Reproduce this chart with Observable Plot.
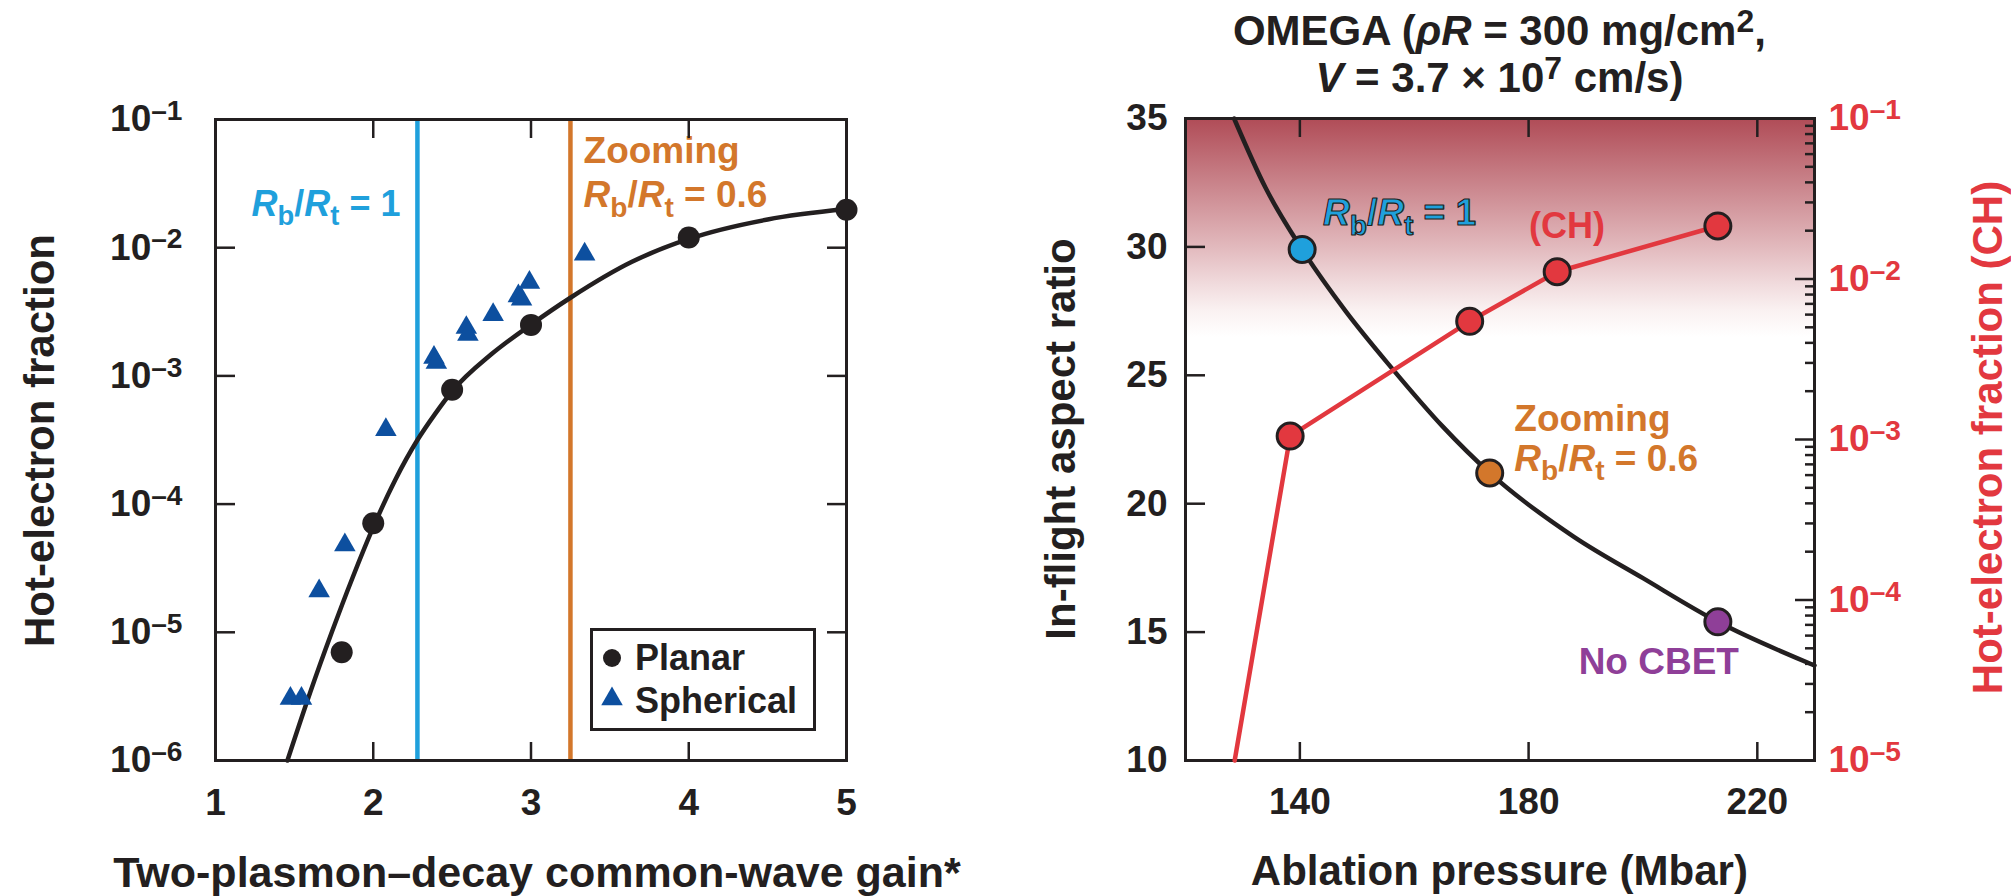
<!DOCTYPE html>
<html><head><meta charset="utf-8">
<script src="https://cdn.jsdelivr.net/npm/d3@7"></script>
<script src="https://cdn.jsdelivr.net/npm/@observablehq/plot@0.6"></script>
<style>
html,body{margin:0;padding:0;background:#fff;}
#wrap{position:relative;width:2011px;height:896px;overflow:hidden;font-family:"Liberation Sans",Arial,Helvetica,sans-serif;font-weight:bold;}
</style></head>
<body><div id="wrap"></div>
<script>
// ---------------- LEFT PANEL DATA ----------------
const planarGain = [1.8, 2.0, 2.5, 3.0, 4.0, 5.0];
const planarFrac = [7.0e-6, 7.1e-5, 7.8e-4, 2.5e-3, 1.2e-2, 1.98e-2];
const sphericalGain = [1.475, 1.545, 1.657, 1.82, 2.08, 2.385, 2.40, 2.59, 2.60, 2.76, 2.92, 2.94, 2.99, 3.34];
const sphericalFrac = [3.05e-6, 3.05e-6, 2.1e-5, 4.8e-5, 3.8e-4, 1.39e-3, 1.27e-3, 2.38e-3, 2.1e-3, 3.0e-3, 4.2e-3, 3.96e-3, 5.35e-3, 8.9e-3];
const fitGain = [1.456, 1.6, 1.737, 1.87, 2.0, 2.14, 2.28, 2.39, 2.5, 2.75, 3.0, 3.25, 3.64, 4.0, 4.5, 5.0];
const fitFrac = [1.0e-6, 3.39e-6, 1.0e-5, 2.69e-5, 6.61e-5, 1.55e-4, 3.16e-4, 5.01e-4, 7.59e-4, 1.48e-3, 2.51e-3, 4.07e-3, 7.76e-3, 1.17e-2, 1.66e-2, 2.0e-2];
const beamCase = ["Rb/Rt = 1", "Zooming Rb/Rt = 0.6"];
const beamGain = [2.28, 3.25];
const gainTicks = [1, 2, 3, 4, 5];
const gainInnerTicks = [2, 3, 4];
const fracTicksLeft = [1e-6, 1e-5, 1e-4, 1e-3, 1e-2, 1e-1];
const fracInnerLeft = [1e-5, 1e-4, 1e-3, 1e-2];

// ---------------- RIGHT PANEL DATA ----------------
const pressureFit = [128.5, 134, 140.4, 148, 156, 165, 173.2, 188, 200, 213.1, 230];
const aspectFit = [35, 32.3, 29.9, 27.5, 25.3, 23.0, 21.2, 18.7, 17.1, 15.4, 13.7];
const caseName = ["Rb/Rt = 1", "Zooming Rb/Rt = 0.6", "No CBET"];
const casePressure = [140.4, 173.2, 213.1];
const caseAspect = [29.9, 21.2, 15.4];
const chPressure = [128.6, 138.3, 169.7, 185.0, 213.1];
const chFrac = [1.0e-5, 1.05e-3, 5.45e-3, 1.11e-2, 2.14e-2];
const pressureTicks = [140, 180, 220];
const aspectTicks = [10, 15, 20, 25, 30, 35];
const aspectInner = [15, 20, 25, 30];
const fracTicksRight = [1e-5, 1e-4, 1e-3, 1e-2, 1e-1];
const fracInnerRight = [1e-4, 1e-3, 1e-2];
const minorMult = [2, 3, 4, 5, 6, 7, 8, 9];

// ---------------- STYLES ----------------
const INK = "#231f20", RED = "#e2383f", TRI = "#0d4f9f";
const caseColor = {"Rb/Rt = 1": "#1fa0dc", "Zooming Rb/Rt = 0.6": "#d3772b", "No CBET": "#8f3f98"};
const FONT = "'Liberation Sans', Arial, Helvetica, sans-serif";
const H = 896, LEFT_W = 1005, RIGHT_X = 1005, RIGHT_W = 1006;
const svgStyle = {fontFamily: FONT, fontSize: "37px", fontWeight: "bold", color: INK, background: "transparent", overflow: "visible"};
const supFmt = d => `10^{–${Math.round(-Math.log10(d))}}`;

const planar = planarGain.map((g, i) => ({gain: g, frac: planarFrac[i]}));
const spherical = sphericalGain.map((g, i) => ({gain: g, frac: sphericalFrac[i]}));
const fit = fitGain.map((g, i) => ({gain: g, frac: fitFrac[i]}));
const beams = beamGain.map((g, i) => ({gain: g, case: beamCase[i]}));
const curve = pressureFit.map((p, i) => ({p, a: aspectFit[i]}));
const cases = caseName.map((c, i) => ({case: c, p: casePressure[i], a: caseAspect[i]}));
const ch = chPressure.map((p, i) => ({p, f: chFrac[i]}));
const minorRight = fracTicksRight.slice(0, -1).flatMap(d => minorMult.map(m => d * m));

const wrap = document.getElementById("wrap");
function place(el, x) { el.style.position = "absolute"; el.style.left = x + "px"; el.style.top = "0px"; wrap.appendChild(el); return el; }

// ---------------- LEFT PLOT ----------------
const left = Plot.plot({
  width: LEFT_W, height: H,
  marginLeft: 215, marginRight: LEFT_W - 846, marginTop: 119, marginBottom: H - 760,
  style: svgStyle,
  x: {domain: [1, 5], label: null},
  y: {type: "log", domain: [1e-6, 1e-1], label: null},
  color: {type: "identity"},
  marks: [
    Plot.ruleX(beams, {x: "gain", stroke: d => caseColor[d.case], strokeWidth: 4.5}),
    Plot.line(fit, {x: "gain", y: "frac", curve: "monotone-x", stroke: INK, strokeWidth: 4.5}),
    Plot.dot(spherical, {x: "gain", y: "frac", symbol: "triangle", r: 8, fill: TRI}),
    Plot.dot(planar, {x: "gain", y: "frac", r: 11, fill: INK}),
    Plot.text([{gain: 2.173, frac: 0.0178}], {x: "gain", y: "frac", text: () => "~R~_{b}/~R~_{t} = 1", textAnchor: "end", lineAnchor: "bottom", fontSize: 36, fill: caseColor["Rb/Rt = 1"]}),
    Plot.text([{gain: 3.333, frac: 0.0454}], {x: "gain", y: "frac", text: () => "Zooming", textAnchor: "start", lineAnchor: "bottom", fontSize: 37, fill: caseColor["Zooming Rb/Rt = 0.6"]}),
    Plot.text([{gain: 3.333, frac: 0.0206}], {x: "gain", y: "frac", text: () => "~R~_{b}/~R~_{t} = 0.6", textAnchor: "start", lineAnchor: "bottom", fontSize: 37, fill: caseColor["Zooming Rb/Rt = 0.6"]}),
    Plot.axisX(gainTicks, {anchor: "bottom", tickSize: 0, tickPadding: 28, label: null, tickFormat: d => String(d)}),
    Plot.axisX(gainInnerTicks, {anchor: "bottom", tickSize: -18, strokeWidth: 2.5, stroke: INK, label: null, tickFormat: () => ""}),
    Plot.axisX(gainInnerTicks, {anchor: "top", tickSize: -18, strokeWidth: 2.5, stroke: INK, label: null, tickFormat: () => ""}),
    Plot.axisY(fracTicksLeft, {anchor: "left", tickSize: 0, tickPadding: 33, label: null, tickFormat: supFmt}),
    Plot.axisY(fracInnerLeft, {anchor: "left", tickSize: -20, strokeWidth: 2.5, stroke: INK, label: null, tickFormat: () => ""}),
    Plot.axisY(fracInnerLeft, {anchor: "right", tickSize: -20, strokeWidth: 2.5, stroke: INK, label: null, tickFormat: () => ""}),
    Plot.frame({stroke: INK, strokeWidth: 3})
  ]
});
place(left, 0);

// ---------------- RIGHT PLOT (aspect ratio, linear) ----------------
const rightBase = Plot.plot({
  width: RIGHT_W, height: H,
  marginLeft: 180, marginRight: RIGHT_W - (1814 - RIGHT_X), marginTop: 118, marginBottom: H - 760,
  style: svgStyle,
  x: {domain: [120, 230], label: null},
  y: {domain: [10, 35], label: null},
  color: {type: "identity"},
  marks: [
    Plot.frame({fill: "url(#hotGrad)"}),
    Plot.line(curve, {x: "p", y: "a", curve: "monotone-x", stroke: INK, strokeWidth: 4.5}),
    Plot.dot(cases, {x: "p", y: "a", r: 13, fill: d => caseColor[d.case], stroke: INK, strokeWidth: 3}),
    Plot.text([{p: 144.05, a: 30.84}], {x: "p", y: "a", text: () => "~R~_{b}/~R~_{t} = 1", textAnchor: "start", lineAnchor: "bottom", fontSize: 37, fill: caseColor["Rb/Rt = 1"], stroke: INK, strokeWidth: 1.2, paintOrder: "normal"}),
    Plot.text([{p: 186.7, a: 30.33}], {x: "p", y: "a", text: () => "(CH)", textAnchor: "middle", lineAnchor: "bottom", fontSize: 36, fill: RED}),
    Plot.text([{p: 177.5, a: 22.85}], {x: "p", y: "a", text: () => "Zooming", textAnchor: "start", lineAnchor: "bottom", fontSize: 37, fill: caseColor["Zooming Rb/Rt = 0.6"]}),
    Plot.text([{p: 177.5, a: 21.29}], {x: "p", y: "a", text: () => "~R~_{b}/~R~_{t} = 0.6", textAnchor: "start", lineAnchor: "bottom", fontSize: 37, fill: caseColor["Zooming Rb/Rt = 0.6"]}),
    Plot.text([{p: 188.75, a: 13.38}], {x: "p", y: "a", text: () => "No CBET", textAnchor: "start", lineAnchor: "bottom", fontSize: 37, fill: caseColor["No CBET"]}),
    Plot.axisX(pressureTicks, {anchor: "bottom", tickSize: 0, tickPadding: 27, label: null, tickFormat: d => String(d)}),
    Plot.axisX(pressureTicks, {anchor: "bottom", tickSize: -18, strokeWidth: 2.5, stroke: INK, label: null, tickFormat: () => ""}),
    Plot.axisX(pressureTicks, {anchor: "top", tickSize: -18, strokeWidth: 2.5, stroke: INK, label: null, tickFormat: () => ""}),
    Plot.axisY(aspectTicks, {anchor: "left", tickSize: 0, tickPadding: 18, label: null, tickFormat: d => String(d)}),
    Plot.axisY(aspectInner, {anchor: "left", tickSize: -20, strokeWidth: 2.5, stroke: INK, label: null, tickFormat: () => ""}),
    Plot.frame({stroke: INK, strokeWidth: 3})
  ]
});
place(rightBase, RIGHT_X);

// gradient definition used by the frame fill
{
  const defs = d3.select(rightBase).insert("defs", ":first-child");
  const g = defs.append("linearGradient").attr("id", "hotGrad").attr("x1", 0).attr("y1", 0).attr("x2", 0).attr("y2", 1);
  [[0, "#b04c57"], [0.08, "#c47880"], [0.2, "#e2b9bd"], [0.26, "#f1dcde"], [0.3, "#faf2f2"], [0.34, "#ffffff"], [1, "#ffffff"]]
    .forEach(([o, c]) => g.append("stop").attr("offset", o).attr("stop-color", c));
}

// ---------------- RIGHT PLOT (hot-electron fraction, log) ----------------
const rightOver = Plot.plot({
  width: RIGHT_W, height: H,
  marginLeft: 180, marginRight: RIGHT_W - (1814 - RIGHT_X), marginTop: 118, marginBottom: H - 760,
  style: svgStyle,
  x: {domain: [120, 230], axis: null, label: null},
  y: {type: "log", domain: [1e-5, 1e-1], label: null},
  marks: [
    Plot.line(ch, {x: "p", y: "f", stroke: RED, strokeWidth: 4.5}),
    Plot.dot(ch, {x: "p", y: "f", filter: (d, i) => i > 0, r: 13, fill: RED, stroke: INK, strokeWidth: 3}),
    Plot.axisY(fracTicksRight, {anchor: "right", tickSize: 0, tickPadding: 14, fill: RED, label: null, tickFormat: supFmt}),
    Plot.axisY(fracInnerRight, {anchor: "right", tickSize: -20, strokeWidth: 2.5, stroke: INK, label: null, tickFormat: () => ""}),
    Plot.axisY(minorRight, {anchor: "right", tickSize: -10, strokeWidth: 2.5, stroke: INK, label: null, tickFormat: () => ""})
  ]
});
place(rightOver, RIGHT_X);

// ---------------- TITLES ----------------
function addText(svg, str, x, y, opts = {}) {
  return d3.select(svg).append("text")
    .attr("transform", `translate(${x},${y})` + (opts.rotate ? ` rotate(${opts.rotate})` : ""))
    .attr("text-anchor", "middle")
    .attr("font-size", opts.size || 42)
    .attr("font-weight", "bold")
    .attr("font-family", FONT)
    .attr("fill", opts.fill || INK)
    .text(str);
}
addText(left, "Hot-electron fraction", 54, 440.5, {rotate: -90});
addText(left, "Two-plasmon–decay common-wave gain*", 537, 887, {size: 43});
addText(rightBase, "In-flight aspect ratio", 1075 - RIGHT_X, 439, {rotate: -90});
addText(rightBase, "Ablation pressure (Mbar)", 494.4, 885);
addText(rightOver, "Hot-electron fraction (CH)", 2002 - RIGHT_X, 437.5, {rotate: -90, fill: RED});
addText(rightBase, "OMEGA (~ρR~ = 300 mg/cm^{2},", 494.4, 45);
addText(rightBase, "~V~ = 3.7 × 10^{7} cm/s)", 494.4, 92);

// ---------------- LEGEND ----------------
{
  const lg = d3.create("svg").attr("width", 226).attr("height", 104)
    .style("position", "absolute").style("left", "590px").style("top", "628px").style("overflow", "visible");
  lg.append("rect").attr("x", 1.5).attr("y", 1.5).attr("width", 223).attr("height", 100).attr("fill", "#fff").attr("stroke", INK).attr("stroke-width", 3);
  lg.append("circle").attr("cx", 22).attr("cy", 30).attr("r", 9).attr("fill", INK);
  lg.append("path").attr("transform", "translate(22,71)").attr("d", d3.symbol(d3.symbolTriangle, 8 * 8 * Math.PI)()).attr("fill", TRI);
  const tx = (s, y) => lg.append("text").attr("x", 45).attr("y", y).attr("font-size", 36).attr("font-weight", "bold").attr("font-family", FONT).attr("fill", INK).text(s);
  tx("Planar", 42);
  tx("Spherical", 85);
  wrap.appendChild(lg.node());
}

// ---------------- RICH TEXT (italic, super/subscripts) ----------------
function richify(root) {
  root.querySelectorAll("text").forEach(t => {
    if (t.querySelector("tspan")) return;
    const s = t.textContent;
    if (!/[\^_~]/.test(s)) return;
    const F = parseFloat(getComputedStyle(t).fontSize) || 36;
    const runs = []; let buf = "", it = false, i = 0;
    const push = (txt, mode, ital) => { if (txt) runs.push({txt, mode, ital}); };
    while (i < s.length) {
      const c = s[i];
      if (c === "~") { push(buf, "n", it); buf = ""; it = !it; i++; }
      else if ((c === "^" || c === "_") && s[i + 1] === "{") {
        push(buf, "n", it); buf = "";
        const j = s.indexOf("}", i);
        push(s.slice(i + 2, j), c === "^" ? "sup" : "sub", it);
        i = j + 1;
      } else { buf += c; i++; }
    }
    push(buf, "n", it);
    t.textContent = "";
    let cur = 0;
    for (const r of runs) {
      const target = r.mode === "sup" ? -0.3 * F : r.mode === "sub" ? 0.26 * F : 0;
      const ts = document.createElementNS("http://www.w3.org/2000/svg", "tspan");
      ts.textContent = r.txt;
      if (target !== cur) ts.setAttribute("dy", (target - cur).toFixed(2));
      cur = target;
      if (r.mode !== "n") ts.setAttribute("font-size", (0.76 * F).toFixed(2));
      if (r.ital) ts.setAttribute("font-style", "italic");
      t.appendChild(ts);
    }
  });
}
[left, rightBase, rightOver].forEach(richify);
</script>
</body></html>
